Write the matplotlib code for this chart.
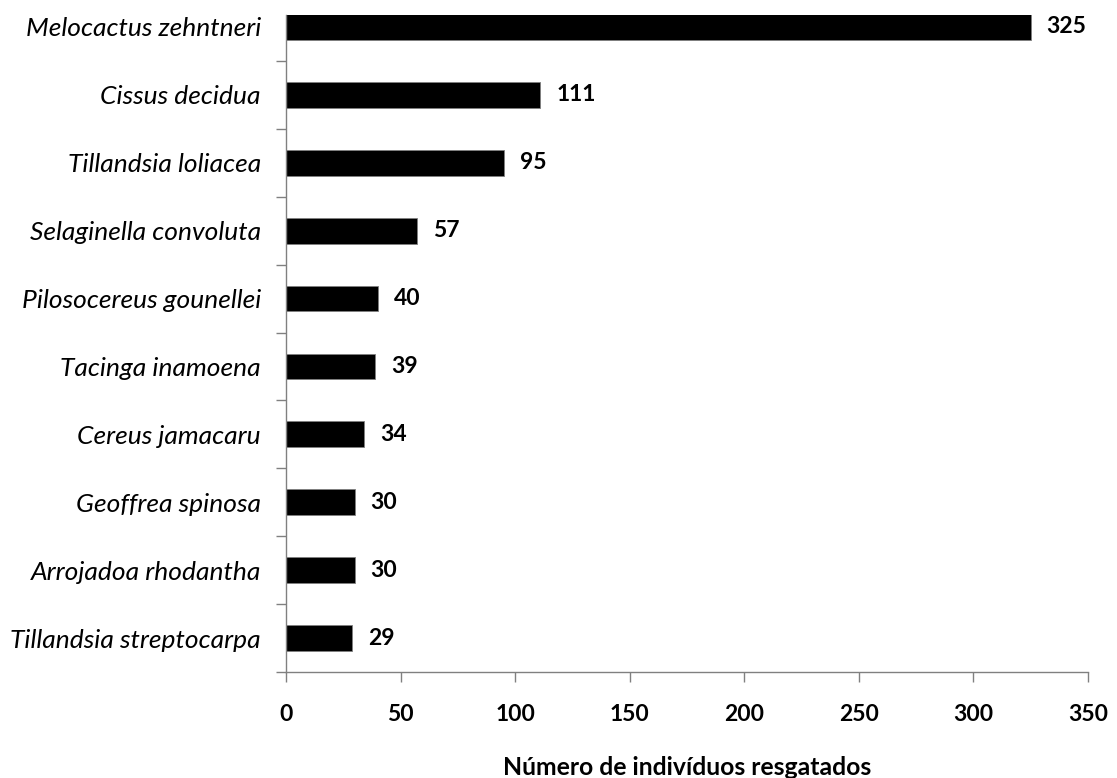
import matplotlib
matplotlib.use("Agg")
import matplotlib.pyplot as plt
from matplotlib.ticker import FixedLocator

species = ["Melocactus zehntneri", "Cissus decidua", "Tillandsia loliacea",
           "Selaginella convoluta", "Pilosocereus gounellei", "Tacinga inamoena",
           "Cereus jamacaru", "Geoffrea spinosa", "Arrojadoa rhodantha",
           "Tillandsia streptocarpa"]
values = [325, 111, 95, 57, 40, 39, 34, 30, 30, 29]
xticks = [0, 50, 100, 150, 200, 250, 300, 350]
xlabel = "Número de indivíduos resgatados"

plt.rcParams['font.family'] = ['Lato', 'DejaVu Sans']

W, H = 1117, 778
fig = plt.figure(figsize=(W/100, H/100), dpi=100)
ax = fig.add_axes([286/W, (H-672)/H, (1088-286)/W, (672-15)/H])

y = list(range(len(species)))
ax.barh(y, values, height=0.38, color='black', edgecolor='#808080', linewidth=0.6)
for yi, v in zip(y, values):
    ax.annotate(str(v), (v, yi), xytext=(11.5, 0), textcoords='offset points',
                va='center', ha='left', fontsize=16.5, fontweight='bold')

ax.set_xlim(0, 350)
ax.set_ylim(9.5, 9.5 - 657/67.9)
ax.set_xticks(xticks)
ax.set_xticklabels([str(t) for t in xticks], fontsize=16.5, fontweight='bold')
ax.set_yticks(y)
ax.set_yticklabels(species, fontsize=19, style='italic')
ax.tick_params(axis='y', which='major', length=0, pad=18)
ax.yaxis.set_minor_locator(FixedLocator([i + 0.5 for i in range(len(species))]))
ax.tick_params(axis='y', which='minor', length=7, color='#808080', width=1)
ax.tick_params(axis='x', length=7, color='#808080', width=1, pad=16)
for s in ['top', 'right']:
    ax.spines[s].set_visible(False)
for s in ['left', 'bottom']:
    ax.spines[s].set_color('#808080')
    ax.spines[s].set_linewidth(1)
ax.set_xlabel(xlabel, fontsize=17.8, fontweight='bold')
ax.xaxis.label.set_verticalalignment('baseline')
ax.xaxis.set_label_coords(0.5, -(775 - 672) / 657)

fig.savefig("out.png", dpi=100)
